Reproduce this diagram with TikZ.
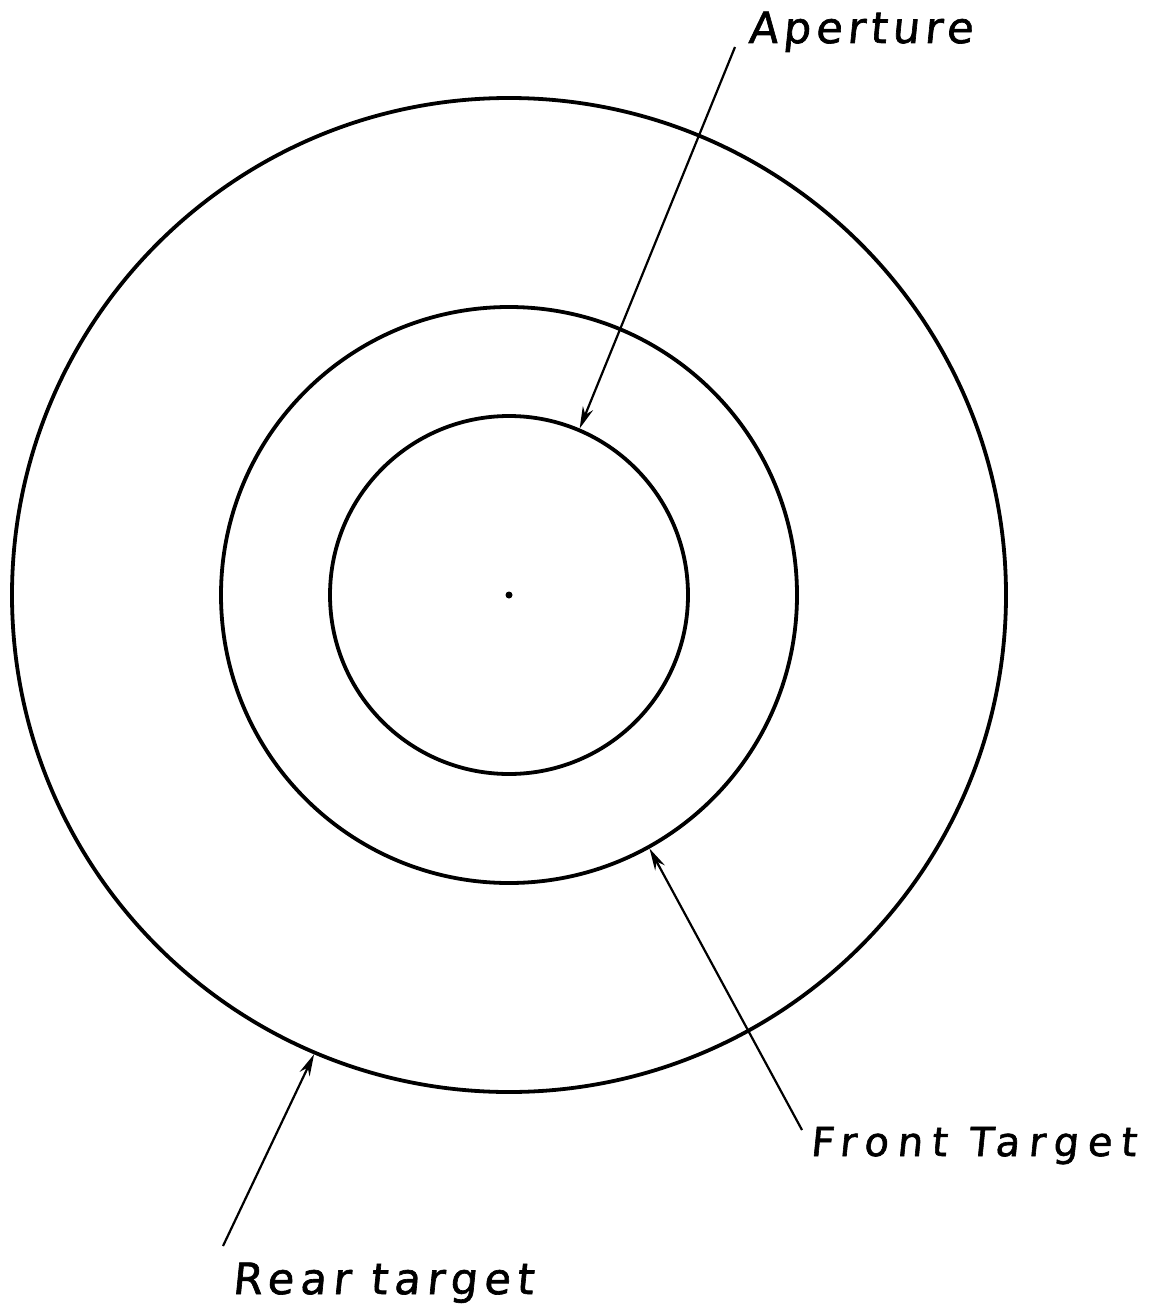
\documentclass[tikz,border=0pt]{standalone}
\usepackage{fontspec}
\newfontfamily\hand[FakeSlant=0.1,FakeBold=1.5,LetterSpace=12]{DejaVu Sans}
\newfontfamily\handw[FakeSlant=0.1,FakeBold=1.5,LetterSpace=22]{DejaVu Sans}
\newfontfamily\handr[FakeSlant=0.1,FakeBold=1.5,LetterSpace=15]{DejaVu Sans}
\usetikzlibrary{arrows.meta,calc}
\begin{document}
\begin{tikzpicture}[x=1pt,y=-1pt,
  ring/.style={draw,circle,inner sep=0pt,line width=3.8pt},
  leader/.style={line width=2.2pt,-{Stealth[length=22pt,width=11pt]}},
  lbl/.style={inner sep=0pt,font=\hand\fontsize{43}{43}\selectfont}]
\useasboundingbox[fill=white] (0,0) rectangle (1151,1316);
\coordinate (c) at (509,595);
\node[ring,minimum size=994pt] (outer) at (c) {};
\node[ring,minimum size=576pt] (front) at (c) {};
\node[ring,minimum size=358pt] (inner) at (c) {};
\fill (c) circle (3.5pt);
\node[lbl,anchor=base west] (ap) at (748,43) {Aperture};
\node[lbl,anchor=base west,font=\handw\fontsize{40}{40}\selectfont] (ft) at (810,1156) {Front Target};
\node[lbl,anchor=base west,font=\handr\fontsize{43}{43}\selectfont] (rt) at (232,1294) {Rear target};
\coordinate (apS) at (735,47);
\coordinate (ftS) at (802,1130);
\coordinate (rtS) at (223,1246);
\draw[leader] (apS) -- (inner.67.6);
\draw[leader] (ftS) -- (front.-61.3);
\draw[leader] (rtS) -- (outer.-113.8);
\end{tikzpicture}
\end{document}
